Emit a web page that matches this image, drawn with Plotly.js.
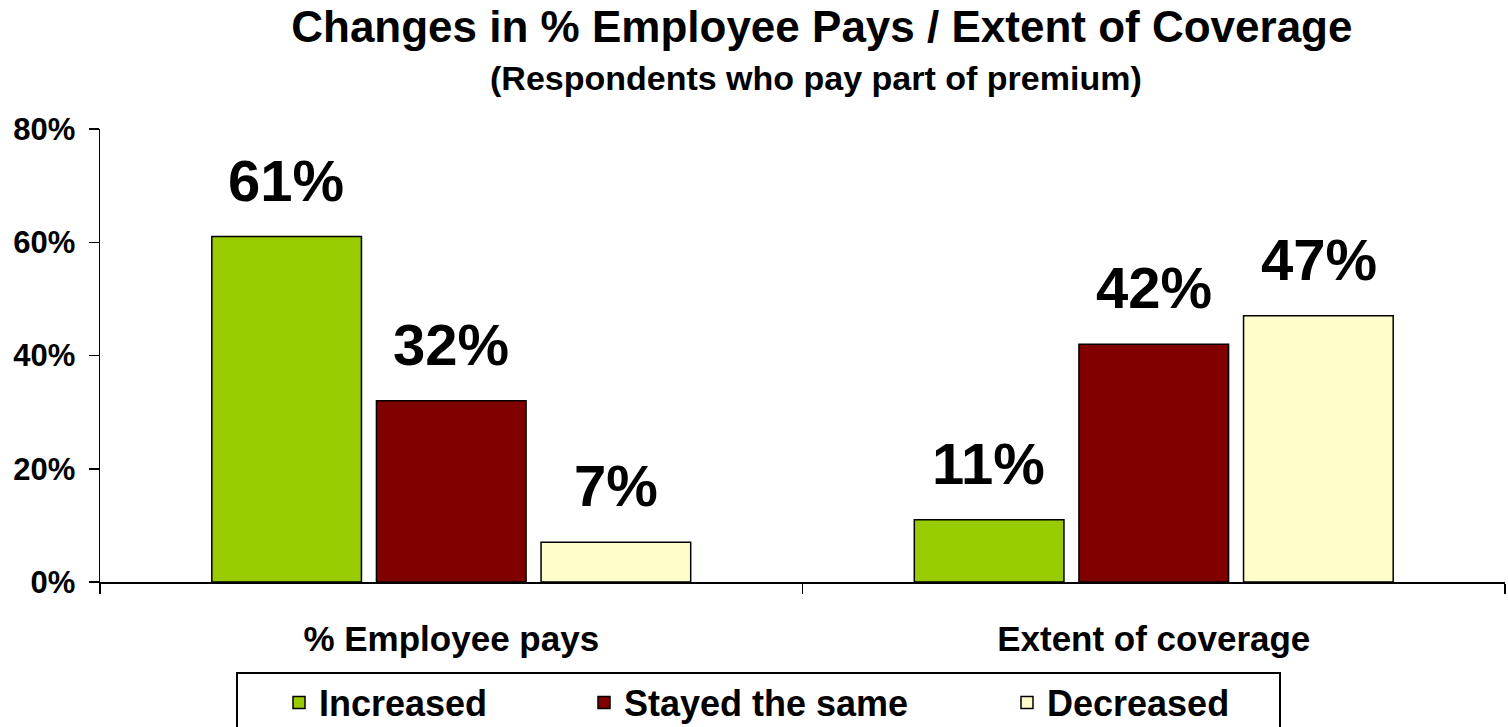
<!DOCTYPE html>
<html>
<head>
<meta charset="utf-8">
<script src="https://cdn.plot.ly/plotly-3.0.1.min.js"></script>
<style>html,body{margin:0;padding:0;background:#fff;}#chart{width:1508px;height:727px;}</style>
</head>
<body>
<div id="chart"></div>
<script>
const categories = ["% Employee pays", "Extent of coverage"];
const seriesNames = ["Increased", "Stayed the same", "Decreased"];
const increased = [0.61, 0.11];
const stayedSame = [0.32, 0.42];
const decreased = [0.07, 0.47];
const yTickVals = [0, 0.2, 0.4, 0.6, 0.8];
const yTickText = ["0%", "20%", "40%", "60%", "80%"];
const titleText = "Changes in % Employee Pays / Extent of Coverage";
const subtitleText = "(Respondents who pay part of premium)";

const seriesValues = [increased, stayedSame, decreased];
const colors = ["#99CC00", "#800000", "#FFFFCC"];
const legendWidths = [260, 378, 200];
const FONT = "Liberation Sans, Arial, sans-serif";

const traces = seriesValues.map((vals, i) => ({
  type: "bar",
  name: seriesNames[i],
  x: categories,
  y: vals,
  legendwidth: legendWidths[i],
  marker: {color: colors[i], line: {color: "#000", width: 1.5}},
  hoverinfo: "none"
}));

const shifts = [-165, 0, 165];
const annotations = [];
seriesValues.forEach((vals, i) => {
  vals.forEach((v, j) => {
    annotations.push({
      x: categories[j], y: v, xref: "x", yref: "y",
      text: Math.round(v * 100) + "%",
      showarrow: false, xanchor: "center", yanchor: "bottom",
      xshift: shifts[i], yshift: 22,
      font: {family: FONT, size: 58, color: "#000", weight: "bold"}
    });
  });
});
annotations.push({
  text: subtitleText, showarrow: false,
  xref: "paper", yref: "paper", x: 0.5096, y: 1.1126,
  xanchor: "center", yanchor: "middle",
  font: {family: FONT, size: 34, color: "#000", weight: "bold"}
});

const layout = {
  width: 1508, height: 727,
  paper_bgcolor: "#fff", plot_bgcolor: "#fff",
  font: {family: FONT, color: "#000", weight: "bold"},
  margin: {l: 100, r: 3, t: 129, b: 145},
  title: {
    text: titleText,
    font: {family: FONT, size: 44, color: "#000", weight: "bold"},
    xref: "container", yref: "container",
    x: 0.545, y: 0.963, xanchor: "center", yanchor: "middle"
  },
  barmode: "group",
  bargap: 0.297,
  bargroupgap: 0.091,
  showlegend: true,
  legend: {
    orientation: "h",
    xref: "container", yref: "container",
    x: 279 / 1508, xanchor: "left", y: 0.075, yanchor: "top",
    bgcolor: "rgba(0,0,0,0)", borderwidth: 0,
    font: {family: FONT, size: 36, color: "#000", weight: "bold"},
    traceorder: "normal"
  },
  shapes: [{
    type: "rect", xref: "paper", yref: "paper",
    x0: (237 - 100) / 1405, x1: (1280 - 100) / 1405,
    y0: (582 - 673) / 453, y1: (582 - 760) / 453,
    line: {color: "#000", width: 2}, fillcolor: "rgba(0,0,0,0)", layer: "below"
  }],
  xaxis: {
    type: "category",
    range: [-0.5, 1.5],
    showline: true, linecolor: "#000", linewidth: 1.5,
    ticks: "outside", tickson: "boundaries", ticklen: 10, tickcolor: "#000", tickwidth: 1.5,
    ticklabelstandoff: 25,
    tickfont: {family: FONT, size: 35, color: "#000", weight: "bold"},
    showgrid: false, zeroline: false, fixedrange: true
  },
  yaxis: {
    range: [0, 0.8],
    tickvals: yTickVals, ticktext: yTickText,
    showline: true, linecolor: "#000", linewidth: 1.5,
    ticks: "outside", ticklen: 10, tickcolor: "#000", tickwidth: 1.5,
    ticklabelstandoff: 7,
    tickfont: {family: FONT, size: 31, color: "#000", weight: "bold"},
    showgrid: false, zeroline: false, fixedrange: true
  },
  annotations: annotations
};

Plotly.newPlot("chart", traces, layout, {displayModeBar: false, staticPlot: true});
</script>
</body>
</html>
